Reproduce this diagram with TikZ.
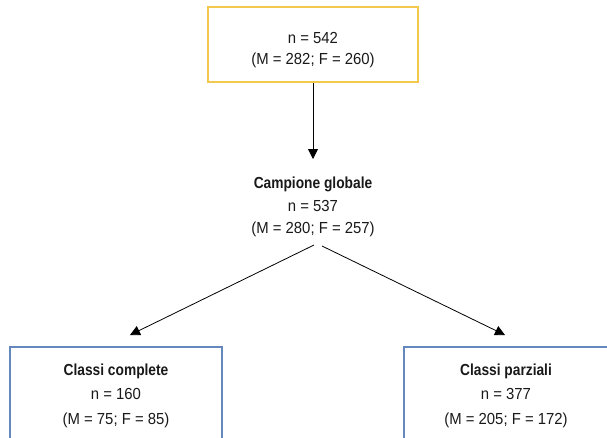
\documentclass[tikz,border=0pt]{standalone}
\usepackage{fontspec}
\setmainfont{Liberation Sans}[FakeStretch=0.93, BoldFeatures={FakeStretch=0.86}]
\usetikzlibrary{arrows.meta}
\definecolor{goldline}{HTML}{F2C94C}
\definecolor{steelline}{HTML}{6488BE}
\begin{document}
\begin{tikzpicture}[x=1pt,y=-1pt,
  txt/.style={font=\fontsize{16}{21.5}\selectfont, align=center, text=black!90},
  goldbox/.style={draw=goldline, line width=2pt, minimum width=210pt, minimum height=75pt, inner sep=0pt},
  bluebox/.style={draw=steelline, line width=2pt, minimum height=97pt, inner sep=0pt},
  conn/.style={-{Triangle[width=10pt,length=10pt]}, line width=0.8pt, black}]
\useasboundingbox (0,0) rectangle (607,437);
\clip (0,0) rectangle (607,437);
\node[goldbox, txt] (top) at (313,44.5) {\rule{0pt}{22.5pt}n = 542\\(M = 282; F = 260)};
\node[txt, inner sep=0pt, font=\fontsize{16}{22.5}\selectfont] (glob) at (313,207) {\textbf{Campione globale}\\n = 537\\(M = 280; F = 257)};
\node[bluebox, txt, minimum width=212pt, font=\fontsize{16}{24.5}\selectfont] (left) at (116,395.5) {\textbf{Classi complete}\\n = 160\\(M = 75; F = 85)};
\node[bluebox, txt, minimum width=204pt, font=\fontsize{16}{24.5}\selectfont] (right) at (506,395.5) {\textbf{Classi parziali}\\n = 377\\(M = 205; F = 172)};
\coordinate (t0) at (313,159);
\coordinate (gl) at (314,245);
\coordinate (gr) at (322,246);
\coordinate (tl) at (130,335);
\coordinate (tr) at (505,335);
\draw[conn] (top) -- (t0);
\draw[conn] (gl) -- (tl);
\draw[conn] (gr) -- (tr);
\end{tikzpicture}
\end{document}
